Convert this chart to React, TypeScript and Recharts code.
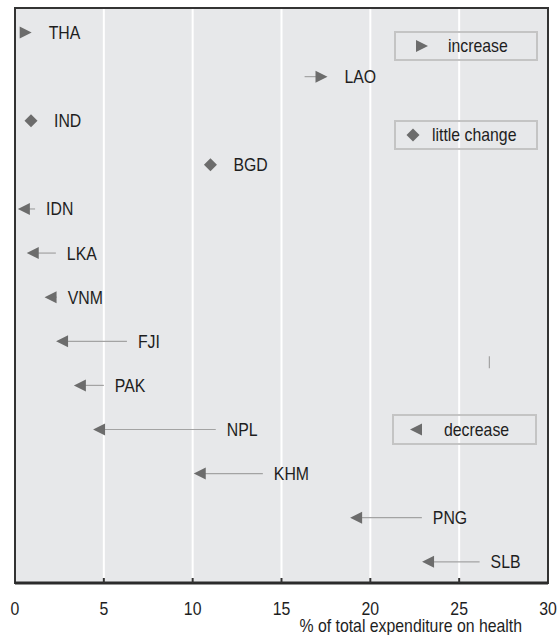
import React from 'react'
import {
  ComposedChart, XAxis, YAxis, CartesianGrid, Scatter, ReferenceLine, ReferenceArea
} from 'recharts'

const countries = ['THA', 'LAO', 'IND', 'BGD', 'IDN', 'LKA', 'VNM', 'FJI', 'PAK', 'NPL', 'KHM', 'PNG', 'SLB']
// share of total expenditure on health, first and last year
const startValues = [0.3, 16.3, 0.9, 11.0, 1.13, 2.3, 2.35, 6.3, 5.0, 11.3, 13.95, 22.9, 26.15]
const endValues = [0.6, 17.25, 0.9, 11.0, 0.5, 1.0, 2.0, 2.65, 3.65, 4.73, 10.4, 19.2, 23.25]
const changeTypes = [
  'increase', 'increase', 'little', 'little', 'decrease', 'decrease', 'decrease',
  'decrease', 'decrease', 'decrease', 'decrease', 'decrease', 'decrease',
]
const xTicks = [0, 5, 10, 15, 20, 25, 30]
const legendItems = [
  { type: 'increase', label: 'increase' },
  { type: 'little', label: 'little change' },
  { type: 'decrease', label: 'decrease' },
]

// no condensed face installed, so squeeze Liberation Sans a bit
const FONT = "'Liberation Sans', Arial, sans-serif"
const FONT_SIZE = 18
const SQUEEZE = 0.88
const BG = '#e7e8ea'
const MARK = '#6c6c6c'
const LINE = '#a3a3a3'
const INK = '#1e1e1e'

const markers = countries.map((c, i) => ({ x: endValues[i], y: i, type: changeTypes[i] }))
const labels = countries.map((c, i) => ({
  x: changeTypes[i] === 'decrease' ? Math.max(startValues[i], endValues[i]) : endValues[i],
  y: i,
  name: c,
  type: changeTypes[i],
}))

const markerPath = (type: string, cx: number, cy: number) => {
  if (type === 'increase') return `M${cx - 6},${cy - 6}L${cx + 6},${cy}L${cx - 6},${cy + 6}Z`
  if (type === 'decrease') return `M${cx + 6},${cy - 6}L${cx - 6},${cy}L${cx + 6},${cy + 6}Z`
  return `M${cx},${cy - 6.5}L${cx + 6.5},${cy}L${cx},${cy + 6.5}L${cx - 6.5},${cy}Z`
}

// eslint-disable-next-line @typescript-eslint/no-explicit-any
const NText = ({ x, y, anchor = 'start', dy, children }: any) => (
  <text
    transform={`translate(${x},${y}) scale(${SQUEEZE},1)`}
    textAnchor={anchor}
    dy={dy}
    fontFamily={FONT}
    fontSize={FONT_SIZE}
    fill={INK}
  >
    {children}
  </text>
)

// eslint-disable-next-line @typescript-eslint/no-explicit-any
const MarkerShape = (props: any) => {
  const { cx, cy, payload } = props
  return <path d={markerPath(payload.type, cx, cy)} fill={MARK} />
}

// eslint-disable-next-line @typescript-eslint/no-explicit-any
const LabelShape = (props: any) => {
  const { cx, cy, payload } = props
  const gap = payload.type === 'decrease' ? 11 : 23
  return <NText x={cx + gap} y={cy} dy="0.36em">{payload.name}</NText>
}

// eslint-disable-next-line @typescript-eslint/no-explicit-any
const XTick = ({ x, y, payload }: any) => (
  <g>
    {payload.value > 0 && payload.value < 30 && (
      <line x1={x} x2={x} y1={y - 5} y2={y} stroke="#333" strokeWidth={2} />
    )}
    <NText x={x} y={y + 32} anchor="middle">{payload.value}</NText>
  </g>
)

function Legend() {
  const boxes = [
    { left: 395, top: 32, w: 142, h: 28, mx: 422, tx: 448 },
    { left: 395, top: 121, w: 142, h: 28, mx: 413, tx: 432 },
    { left: 393, top: 415, w: 143, h: 29, mx: 416, tx: 444 },
  ]
  return (
    <svg width={560} height={635} style={{ position: 'absolute', left: 0, top: 0, pointerEvents: 'none' }}>
      {legendItems.map((item, i) => {
        const b = boxes[i]
        const cy = b.top + b.h / 2
        return (
          <g key={item.label}>
            <rect x={b.left} y={b.top} width={b.w} height={b.h} fill="none" stroke="#c4c4c4" strokeWidth={2} />
            <path d={markerPath(item.type, b.mx, cy)} fill={MARK} />
            <NText x={b.tx} y={cy} dy="0.36em">{item.label}</NText>
          </g>
        )
      })}
    </svg>
  )
}

export default function App() {
  return (
    <div style={{ position: 'absolute', left: 0, top: 0, width: 560, height: 635, background: '#fff' }}>
      <ComposedChart width={560} height={635} margin={{ top: 8, right: 12, bottom: 22, left: 15 }}>
        <CartesianGrid horizontal={false} stroke="#fff" strokeWidth={2} fill={BG} fillOpacity={1} />
        <XAxis
          type="number"
          dataKey="x"
          domain={[0, 30]}
          ticks={xTicks}
          height={30}
          tickSize={0}
          tickMargin={0}
          tickLine={false}
          axisLine={{ stroke: '#2b2b2b', strokeWidth: 3 }}
          tick={<XTick />}
          interval={0}
          label={{
            // eslint-disable-next-line @typescript-eslint/no-explicit-any
            content: ({ viewBox }: any) => (
              <NText x={viewBox.x + viewBox.width - 26} y={viewBox.y + 49} anchor="end">
                % of total expenditure on health
              </NText>
            ),
          }}
        />
        <YAxis type="number" dataKey="y" domain={[-0.556, 12.48]} reversed hide />
        {countries.map((c, i) =>
          startValues[i] !== endValues[i] ? (
            <ReferenceLine
              key={c}
              segment={[{ x: startValues[i], y: i }, { x: endValues[i], y: i }]}
              stroke={LINE}
              strokeWidth={1.2}
            />
          ) : null
        )}
        <ReferenceLine segment={[{ x: 26.7, y: 7.34 }, { x: 26.7, y: 7.61 }]} stroke={LINE} strokeWidth={1.2} />
        <Scatter data={markers} shape={<MarkerShape />} isAnimationActive={false} />
        <Scatter data={labels} shape={<LabelShape />} isAnimationActive={false} />
        <ReferenceArea x1={0} x2={30} y1={-0.556} y2={12.48} fill="none" stroke="#333" strokeWidth={2} />
      </ComposedChart>
      <Legend />
    </div>
  )
}
